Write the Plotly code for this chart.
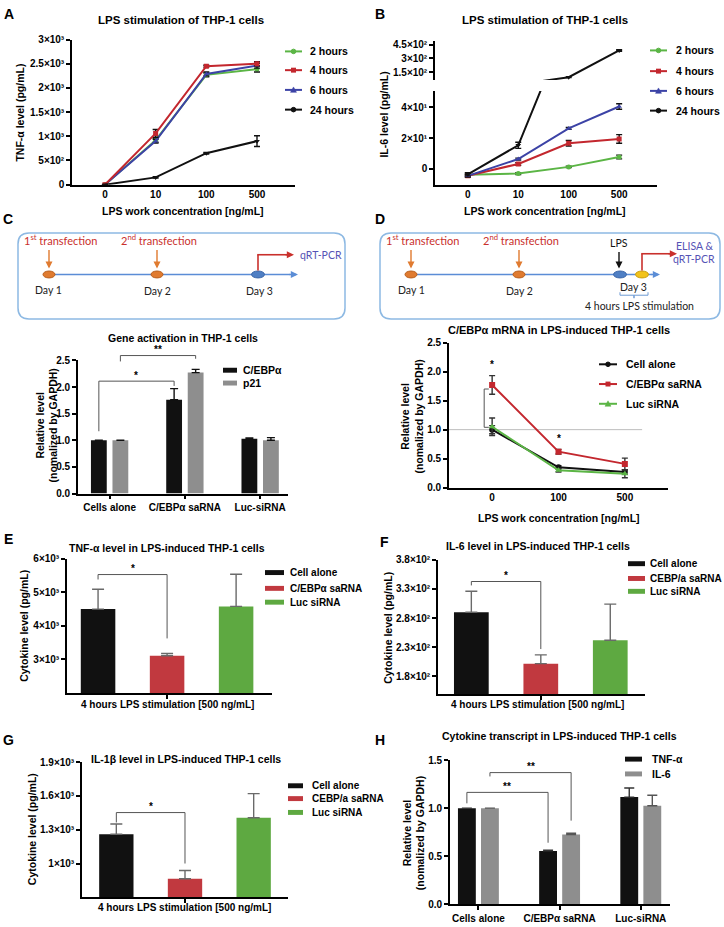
import plotly.graph_objects as go

W, H = 724, 927
FONT = "Liberation Sans"
DFONT = "Lato"

# ---------------- data ----------------
conc_labels = ["0", "10", "100", "500"]
hour_labels = ["2 hours", "4 hours", "6 hours", "24 hours"]

tnf_2h = [0, 920, 2270, 2390]
tnf_2h_err = [0, 40, 40, 60]
tnf_4h = [0, 1060, 2450, 2500]
tnf_4h_err = [0, 80, 20, 40]
tnf_6h = [0, 900, 2290, 2460]
tnf_6h_err = [0, 40, 40, 50]
tnf_24h = [0, 150, 650, 900]
tnf_24h_err = [0, 15, 15, 110]

il6_2h = [-3.8, -3.0, 1.3, 7.7]
il6_2h_err = [0.8, 0.6, 0.5, 1.2]
il6_4h = [-4.5, 3.2, 16.6, 19.4]
il6_4h_err = [0.8, 0.8, 1.8, 2.8]
il6_6h = [-4.5, 6.4, 26.2, 40.4]
il6_6h_err = [0.8, 0.6, 0.6, 1.8]
il6_24h = [-3.5, 15.3, 95, 385]
il6_24h_err = [1.0, 2.0, 3, 8]

gene_groups = ["Cells alone", "C/EBPα saRNA", "Luc-siRNA"]
gene_cebpa = [1.0, 1.76, 1.03]
gene_cebpa_err = [0, 0.21, 0.015]
gene_p21 = [1.0, 2.27, 1.0]
gene_p21_err = [0, 0.06, 0.05]

d_conc = ["0", "100", "500"]
d_series = ["Cell alone", "C/EBPα saRNA", "Luc siRNA"]
d_cell = [1.0, 0.35, 0.27]
d_cell_err = [0.07, 0.03, 0.04]
d_sarna = [1.77, 0.62, 0.41]
d_sarna_err = [0.16, 0.04, 0.10]
d_luc = [1.05, 0.30, 0.24]
d_luc_err = [0.15, 0.03, 0.07]

cyto_groups = ["Cell alone", "C/EBPα saRNA", "Luc siRNA"]
cyto_groups_fg = ["Cell alone", "CEBP/a saRNA", "Luc siRNA"]
e_tnf = [4500, 3110, 4580]
e_tnf_err = [590, 65, 960]
f_il6 = [290, 202, 242]
f_il6_err = [36, 15, 62]
g_il1b = [1260, 865, 1406]
g_il1b_err = [90, 73, 214]

h_groups = ["Cells alone", "C/EBPα saRNA", "Luc-siRNA"]
h_tnf = [1.0, 0.555, 1.115]
h_tnf_err = [0, 0.006, 0.095]
h_il6 = [1.0, 0.725, 1.025]
h_il6_err = [0, 0.015, 0.11]

# ---------------- helpers ----------------
def X(px):
    return px / W

def Y(py):
    return 1 - py / H


class Ax:
    """pixel box + value range of a subplot (same numbers given to plotly)."""
    def __init__(self, x0, x1, xr, y0, y1, yr):
        self.x0, self.x1, self.xr = x0, x1, xr
        self.y0, self.y1, self.yr = y0, y1, yr

    def xd(self):
        return [X(self.x0), X(self.x1)]

    def yd(self):
        return [Y(self.y1), Y(self.y0)]

    def px(self, v):
        return self.x0 + (v - self.xr[0]) / (self.xr[1] - self.xr[0]) * (self.x1 - self.x0)

    def py(self, v):
        return self.y1 - (v - self.yr[0]) / (self.yr[1] - self.yr[0]) * (self.y1 - self.y0)


axA = Ax(72, 295, [-0.65, 3.75], 34, 181, [0, 3000])
axB = Ax(435, 657, [-0.65, 3.75], 86, 181, [-10.2, 50.5])
axBu = Ax(435, 657, [-0.65, 3.75], 35, 75, [64, 493])
axC = Ax(78, 288, [-0.42, 2.37], 359, 494, [0, 2.5])
axD = Ax(449, 668, [-0.65, 2.65], 341, 488, [0, 2.5])
axE = Ax(67, 272, [-0.45, 2.52], 560, 696, [2000, 6000])
axF = Ax(438, 645, [-0.48, 2.5], 561, 697, [150, 380])
axG = Ax(82, 288, [-0.5, 2.5], 766, 903, [700, 1900])
axH = Ax(450, 670, [-0.35, 2.36], 764, 910, [0, 1.5])

TICKFONT = dict(family=FONT, size=10, color="black", weight="bold")
LW = 1.6

shapes = []
annos = []


def txt(x, y, s, size=10, bold=True, color="black", xanchor="center", angle=0, family=FONT, yanchor="middle"):
    annos.append(dict(x=X(x), y=Y(y), xref="paper", yref="paper", text=s, showarrow=False,
                      xanchor=xanchor, yanchor=yanchor, textangle=angle,
                      font=dict(family=family, size=size, color=color, weight="bold" if bold else "normal")))


def line(x0, y0, x1, y1, color="black", width=1.5, dash=None):
    d = dict(type="line", xref="paper", yref="paper", x0=X(x0), y0=Y(y0), x1=X(x1), y1=Y(y1),
             line=dict(color=color, width=width))
    if dash:
        d["line"]["dash"] = dash
    shapes.append(d)


def rect(x0, y0, x1, y1, fill, lc=None, lw=0):
    shapes.append(dict(type="rect", xref="paper", yref="paper", x0=X(x0), y0=Y(y0), x1=X(x1), y1=Y(y1),
                       fillcolor=fill, line=dict(color=lc or fill, width=lw)))


def ellipse(cx, cy, rx, ry, fill, lc):
    shapes.append(dict(type="circle", xref="paper", yref="paper", x0=X(cx - rx), y0=Y(cy + ry),
                       x1=X(cx + rx), y1=Y(cy - ry), fillcolor=fill, line=dict(color=lc, width=1)))


def path(pts, color="#444", width=1.0):
    p = "M" + " L".join(f"{X(a):.5f},{Y(b):.5f}" for a, b in pts)
    shapes.append(dict(type="path", xref="paper", yref="paper", path=p, line=dict(color=color, width=width)))


def arrow(x, y, ax, ay, color, width=1.5, head=2, size=1.0):
    annos.append(dict(x=X(x), y=Y(y), xref="paper", yref="paper", ax=ax, ay=ay, text="",
                      showarrow=True, arrowhead=head, arrowsize=size, arrowwidth=width, arrowcolor=color))


def bracket(ax, xl, xr, ytop, yl, yr, stars):
    path([(ax.px(xl), ax.py(yl)), (ax.px(xl), ax.py(ytop)), (ax.px(xr), ax.py(ytop)), (ax.px(xr), ax.py(yr))],
         color="#555", width=1.0)
    txt((ax.px(xl) + ax.px(xr)) / 2, ax.py(ytop) - 6, stars, size=10, bold=True)


def legend_line(x0, x1, xt, y, label, color, sym):
    line(x0, y, x1, y, color=color, width=2)
    cx = (x0 + x1) / 2
    if sym == "square":
        rect(cx - 2.5, y - 2.5, cx + 2.5, y + 2.5, color)
    elif sym == "tri":
        shapes.append(dict(type="path", xref="paper", yref="paper",
                           path=f"M{X(cx-3):.5f},{Y(y+2.5):.5f} L{X(cx+3):.5f},{Y(y+2.5):.5f} L{X(cx):.5f},{Y(y-3):.5f} Z",
                           fillcolor=color, line=dict(color=color, width=0.5)))
    else:
        ellipse(cx, y, 2.3, 2.3, color, color)
    txt(xt, y, label, size=10.5, xanchor="left")


def legend_box(x0, x1, xt, y, label, color, h=5, size=10):
    rect(x0, y - h / 2, x1, y + h / 2, color)
    txt(xt, y, label, size=size, xanchor="left")


def xaxis(ax, anchor, ticks="", tickvals=None, showlabels=True, cat=True):
    d = dict(domain=ax.xd(), range=ax.xr, anchor=anchor, showline=True, linecolor="black", linewidth=LW,
             showgrid=False, zeroline=False, ticks=ticks, ticklen=4, tickwidth=LW, tickcolor="black",
             tickfont=TICKFONT, showticklabels=showlabels, fixedrange=True)
    if cat:
        d["type"] = "category"
    if tickvals is not None:
        d["tickvals"] = tickvals
    return d


def yaxis(ax, anchor, tickvals, ticktext):
    return dict(domain=ax.yd(), range=ax.yr, anchor=anchor, showline=True, linecolor="black", linewidth=LW,
                showgrid=False, zeroline=False, ticks="outside", ticklen=4, tickwidth=LW, tickcolor="black",
                tickfont=TICKFONT, tickvals=tickvals, ticktext=ticktext, fixedrange=True)


GREEN = "#5BB545"
RED = "#C3272E"
BLUE = "#3C43A6"
BLACK = "#111111"
BAR_RED = "#C1393F"
BAR_GREEN = "#5EA941"
GRAY = "#8E8E8E"

fig = go.Figure()


def err(arr, color, width=3, sym=True):
    d = dict(type="data", array=arr, color=color, thickness=1.4, width=width, visible=True)
    if not sym:
        d["symmetric"] = False
        d["arrayminus"] = [0] * len(arr)
    return d


# ---------------- Panel A ----------------
for ys, es, col, sym, nm in [(tnf_2h, tnf_2h_err, GREEN, "circle", hour_labels[0]),
                             (tnf_6h, tnf_6h_err, BLUE, "triangle-up", hour_labels[2]),
                             (tnf_4h, tnf_4h_err, RED, "square", hour_labels[1]),
                             (tnf_24h, tnf_24h_err, BLACK, "triangle-down", hour_labels[3])]:
    fig.add_trace(go.Scatter(x=conc_labels, y=ys, error_y=err(es, BLACK), mode="lines+markers", name=nm,
                             line=dict(color=col, width=2), marker=dict(symbol=sym, size=5, color=col),
                             xaxis="x", yaxis="y", showlegend=False))

# ---------------- Panel B (broken axis) ----------------
for ys, es, col, sym, nm in [(il6_2h, il6_2h_err, GREEN, "circle", hour_labels[0]),
                             (il6_4h, il6_4h_err, RED, "square", hour_labels[1]),
                             (il6_6h, il6_6h_err, BLUE, "triangle-up", hour_labels[2]),
                             (il6_24h, il6_24h_err, BLACK, "triangle-down", hour_labels[3])]:
    fig.add_trace(go.Scatter(x=conc_labels, y=ys, error_y=err(es, BLACK), mode="lines+markers", name=nm,
                             line=dict(color=col, width=2), marker=dict(symbol=sym, size=5, color=col),
                             xaxis="x2", yaxis="y2", showlegend=False))
fig.add_trace(go.Scatter(x=conc_labels, y=il6_24h, error_y=err(il6_24h_err, BLACK), mode="lines+markers",
                         line=dict(color=BLACK, width=2), marker=dict(symbol="triangle-down", size=5, color=BLACK),
                         xaxis="x2", yaxis="y3", showlegend=False))

# ---------------- Panel C bars ----------------
BW_C = 0.21
fig.add_trace(go.Bar(x=gene_groups, y=gene_cebpa, width=BW_C, offset=-0.143 - BW_C / 2, marker_color=BLACK,
                     marker_line_width=0, error_y=err(gene_cebpa_err, BLACK, 4, False),
                     xaxis="x3", yaxis="y4", showlegend=False))
fig.add_trace(go.Bar(x=gene_groups, y=gene_p21, width=BW_C, offset=0.143 - BW_C / 2, marker_color=GRAY,
                     marker_line_width=0, error_y=err(gene_p21_err, BLACK, 4, False),
                     xaxis="x3", yaxis="y4", showlegend=False))

# ---------------- Panel D lines ----------------
for ys, es, col, sym in [(d_cell, d_cell_err, BLACK, "circle"),
                         (d_luc, d_luc_err, GREEN, "triangle-up"),
                         (d_sarna, d_sarna_err, RED, "square")]:
    fig.add_trace(go.Scatter(x=d_conc, y=ys, error_y=err(es, "#333", 3), mode="lines+markers",
                             line=dict(color=col, width=2), marker=dict(symbol=sym, size=6, color=col),
                             xaxis="x4", yaxis="y5", showlegend=False))

# ---------------- Panels E/F/G bars ----------------
for vals, errs, cats, xa, ya in [(e_tnf, e_tnf_err, cyto_groups, "x5", "y6"),
                                 (f_il6, f_il6_err, cyto_groups_fg, "x6", "y7"),
                                 (g_il1b, g_il1b_err, cyto_groups_fg, "x7", "y8")]:
    fig.add_trace(go.Bar(x=cats, y=vals, width=0.5, marker_color=[BLACK, BAR_RED, BAR_GREEN],
                         marker_line_width=0, error_y=err(errs, "#6a6a6a", 6, False),
                         xaxis=xa, yaxis=ya, showlegend=False))

# ---------------- Panel H bars ----------------
BW_H = 0.22
fig.add_trace(go.Bar(x=h_groups, y=h_tnf, width=BW_H, offset=-0.142 - BW_H / 2, marker_color=BLACK,
                     marker_line_width=0, error_y=err(h_tnf_err, "#333", 5, False),
                     xaxis="x8", yaxis="y9", showlegend=False))
fig.add_trace(go.Bar(x=h_groups, y=h_il6, width=BW_H, offset=0.142 - BW_H / 2, marker_color=GRAY,
                     marker_line_width=0, error_y=err(h_il6_err, "#555", 5, False),
                     xaxis="x8", yaxis="y9", showlegend=False))

# ---------------- axes ----------------
lay = {}
lay["xaxis"] = xaxis(axA, "y")
lay["yaxis"] = yaxis(axA, "x", [0, 500, 1000, 1500, 2000, 2500, 3000],
                     ["0", "5×10²", "1×10³", "1.5×10³", "2×10³", "2.5×10³", "3×10³"])
lay["xaxis2"] = xaxis(axB, "y2")
lay["yaxis2"] = yaxis(axB, "x2", [0, 20, 40], ["0", "2×10¹", "4×10¹"])
lay["yaxis3"] = yaxis(axBu, "x2", [150, 300, 450], ["1.5×10²", "3×10²", "4.5×10²"])
lay["xaxis3"] = xaxis(axC, "y4", ticks="outside")
lay["yaxis4"] = yaxis(axC, "x3", [0, 0.5, 1.0, 1.5, 2.0, 2.5], ["0.0", "0.5", "1.0", "1.5", "2.0", "2.5"])
lay["xaxis4"] = xaxis(axD, "y5")
lay["yaxis5"] = yaxis(axD, "x4", [0, 0.5, 1.0, 1.5, 2.0, 2.5], ["0.0", "0.5", "1.0", "1.5", "2.0", "2.5"])
lay["xaxis5"] = xaxis(axE, "y6", ticks="outside", tickvals=[cyto_groups[1]], showlabels=False)
lay["yaxis6"] = yaxis(axE, "x5", [3000, 4000, 5000, 6000], ["3×10³", "4×10³", "5×10³", "6×10³"])
lay["xaxis6"] = xaxis(axF, "y7", ticks="outside", tickvals=[cyto_groups_fg[1]], showlabels=False)
lay["yaxis7"] = yaxis(axF, "x6", [180, 230, 280, 330, 380], ["1.8×10²", "2.3×10²", "2.8×10²", "3.3×10²", "3.8×10²"])
lay["xaxis7"] = xaxis(axG, "y8", ticks="outside", tickvals=[cyto_groups_fg[1]], showlabels=False)
lay["yaxis8"] = yaxis(axG, "x7", [1000, 1300, 1600, 1900], ["1×10³", "1.3×10³", "1.6×10³", "1.9×10³"])
lay["xaxis8"] = xaxis(axH, "y9", ticks="outside")
lay["yaxis9"] = yaxis(axH, "x8", [0, 0.5, 1.0, 1.5], ["0.0", "0.5", "1.0", "1.5"])

# ---------------- reference line / bracket in D ----------------
shapes.append(dict(type="line", xref="x4", yref="y5", x0=-0.65, x1=2.26, y0=1.0, y1=1.0,
                   line=dict(color="#bdbdbd", width=1), layer="below"))
path([(axD.px(-0.05), axD.py(1.70)), (axD.px(-0.12), axD.py(1.70)),
      (axD.px(-0.12), axD.py(1.04)), (axD.px(-0.05), axD.py(1.04))], color="#555", width=1)
txt(axD.px(0), axD.py(2.13), "*", size=10)
txt(axD.px(1), axD.py(0.85), "*", size=10)

# ---------------- significance brackets ----------------
bracket(axC, -0.143, 1 - 0.143, 2.11, 1.17, 2.02, "*")
bracket(axC, 0.143, 1 + 0.143, 2.59, 2.48, 2.53, "**")
bracket(axE, 0, 1, 5529, 5382, 3626, "*")
bracket(axF, 0, 1, 342.7, 336, 227, "*")
bracket(axG, 0, 1, 1452, 1364, 1000, "*")
bracket(axH, -0.142, 1 - 0.142, 1.164, 1.05, 0.64, "**")
bracket(axH, 0.142, 1 + 0.142, 1.37, 1.33, 0.87, "**")

# ---------------- legends ----------------
for i, (lab, col, sym) in enumerate(zip(hour_labels, [GREEN, RED, BLUE, BLACK], ["circle", "square", "tri", "circle"])):
    legend_line(285, 302, 308, [46, 65, 85, 105][i], lab, col, sym)
    legend_line(650, 667, 674, [45, 66, 86, 106][i], lab, col, sym)
for i, (lab, col, sym) in enumerate(zip(d_series, [BLACK, RED, GREEN], ["circle", "square", "tri"])):
    legend_line(599, 617, 624, [363, 383, 403][i], lab, col, sym)
legend_box(223, 237, 241, 369, "C/EBPα", BLACK, size=10.5)
legend_box(223, 237, 241, 382, "p21", GRAY, size=10.5)
for i, (lab, col) in enumerate(zip(cyto_groups, [BLACK, BAR_RED, BAR_GREEN])):
    legend_box(265, 284, 288, [574, 590, 604][i], lab, col)
for i, (lab, col) in enumerate(zip(cyto_groups_fg, [BLACK, BAR_RED, BAR_GREEN])):
    legend_box(628, 645, 648, [565, 580, 593][i], lab, col, size=10)
    legend_box(288, 303, 310, [790, 803, 817][i], lab, col)
legend_box(625, 642, 650, 763, "TNF-α", BLACK, size=10.5)
legend_box(625, 642, 650, 778, "IL-6", GRAY, size=10.5)

# ---------------- titles & axis titles ----------------
txt(181, 14, "LPS stimulation of THP-1 cells", size=11.5)
txt(545, 14, "LPS stimulation of THP-1 cells", size=11.5)
txt(183, 208, "LPS work concentration [ng/mL]", size=10.5)
txt(545, 208, "LPS work concentration [ng/mL]", size=10.5)
txt(20, 108, "TNF-α level (pg/mL)", size=10.5, angle=-90)
txt(384, 110, "IL-6 level (pg/mL)", size=10.5, angle=-90)

txt(183, 336, "Gene activation in THP-1 cells", size=10.5)
txt(47, 425, "Relative level<br>(nomalized by GAPDH)", size=10.5, angle=-90)
txt(559, 328, "C/EBPα mRNA in LPS-induced THP-1 cells", size=11)
txt(412, 416, "Relative level<br>(nomalized by GAPDH)", size=10.5, angle=-90)
txt(559, 519, "LPS work concentration [ng/mL]", size=10.5)

txt(167, 549, "TNF-α level in LPS-induced THP-1 cells", size=10.5)
txt(24, 628, "Cytokine level (pg/mL)", size=10.5, angle=-90)
txt(167, 708, "4 hours LPS stimulation [500 ng/mL]", size=10)
txt(538, 547, "IL-6 level in LPS-induced THP-1 cells", size=10.5)
txt(388, 630, "Cytokine level (pg/mL)", size=10.5, angle=-90)
txt(537, 708, "4 hours LPS stimulation [500 ng/mL]", size=10)

txt(186, 763, "IL-1β level in LPS-induced THP-1 cells", size=10.5)
txt(32, 834, "Cytokine level (pg/mL)", size=10.5, angle=-90)
txt(184, 913, "4 hours LPS stimulation [500 ng/mL]", size=10)
txt(559, 740, "Cytokine transcript in LPS-induced THP-1 cells", size=10.5)
txt(414, 838, "Relative level<br>(nomalized by GAPDH)", size=10.5, angle=-90)

for lab, x, y in [("A", 9, 8), ("B", 380, 8), ("C", 8, 216), ("D", 380, 216),
                  ("E", 8, 540), ("F", 385, 543), ("G", 8, 744), ("H", 380, 744)]:
    txt(x, y, lab, size=14)

# ---------------- timeline diagrams (C, D) ----------------
BOX = "#8DB9E3"
TL = "#5B8DD6"
ORANGE = "#E07B30"
ORANGE_D = "#B85E1C"
DRED = "#C9302C"
PURP = "#5553B5"
BLUE_DOT = "#4F7FC4"


def rounded(x0, y0, x1, y1, r):
    pts = (f"M{X(x0 + r):.5f},{Y(y0):.5f} L{X(x1 - r):.5f},{Y(y0):.5f} "
           f"Q{X(x1):.5f},{Y(y0):.5f} {X(x1):.5f},{Y(y0 + r):.5f} "
           f"L{X(x1):.5f},{Y(y1 - r):.5f} Q{X(x1):.5f},{Y(y1):.5f} {X(x1 - r):.5f},{Y(y1):.5f} "
           f"L{X(x0 + r):.5f},{Y(y1):.5f} Q{X(x0):.5f},{Y(y1):.5f} {X(x0):.5f},{Y(y1 - r):.5f} "
           f"L{X(x0):.5f},{Y(y0 + r):.5f} Q{X(x0):.5f},{Y(y0):.5f} {X(x0 + r):.5f},{Y(y0):.5f} Z")
    shapes.append(dict(type="path", xref="paper", yref="paper", path=pts, line=dict(color=BOX, width=1.5)))


for off, box_r in [(0, 345), (362, 720)]:
    rounded(18 + off, 230, box_r, 317, 11)
    line(45 + off, 272, 290 + off, 272, color=TL, width=1.6)
    arrow(298 + off, 272, -10, 0, TL, width=1.6, head=2, size=0.9)
    txt(60 + off, 237, "1<sup>st</sup> transfection", size=11, bold=False, color=DRED, family=DFONT)
    txt(159 + off, 237, "2<sup>nd</sup> transfection", size=11, bold=False, color=DRED, family=DFONT)
    arrow(49 + off, 266, 0, -20, ORANGE, width=1.4, head=2, size=1)
    arrow(157 + off, 266, 0, -20, ORANGE, width=1.4, head=2, size=1)
    ellipse(49 + off, 272, 6, 3.5, ORANGE, ORANGE_D)
    ellipse(157 + off, 272, 6, 3.5, ORANGE, ORANGE_D)
    txt(49 + off, 288, "Day 1", size=10.5, bold=False, color="#222", family=DFONT)
    txt(157 + off, 289, "Day 2", size=10.5, bold=False, color="#222", family=DFONT)

# C specific
ellipse(258, 272, 6.5, 3.5, BLUE_DOT, "#3B66A8")
txt(259, 289, "Day 3", size=10.5, bold=False, color="#222", family=DFONT)
line(258, 268, 258, 252, color=DRED, width=1.6)
line(257.2, 252, 287, 252, color=DRED, width=1.6)
arrow(294, 252, -10, 0, DRED, width=1.6, head=2, size=0.9)
txt(298, 252, "qRT-PCR", size=10.5, bold=False, color=PURP, family=DFONT, xanchor="left")

# D specific
ellipse(620, 272, 6.5, 3.5, BLUE_DOT, "#3B66A8")
ellipse(642, 272, 6.5, 3.5, "#F2C31B", "#C99E10")
txt(619, 240, "LPS", size=10.5, bold=False, color="#111", family=DFONT)
arrow(619, 266, 0, -18, "#111", width=1.4, head=2, size=1)
txt(633, 285, "Day 3", size=10.5, bold=False, color="#222", family=DFONT)
path([(620, 290), (620, 293), (634, 293), (634, 296), (634, 293), (648, 293), (648, 290)], color="#6E9BD4", width=1)
txt(639, 304, "4 hours LPS stimulation", size=10.5, bold=False, color="#222", family=DFONT)
line(642, 268, 642, 251, color=DRED, width=1.6)
line(641.2, 251, 670, 251, color=DRED, width=1.6)
arrow(677, 251, -10, 0, DRED, width=1.6, head=2, size=0.9)
txt(694, 243, "ELISA &", size=10.5, bold=False, color=PURP, family=DFONT)
txt(694, 256, "qRT-PCR", size=10.5, bold=False, color=PURP, family=DFONT)

fig.update_layout(**lay)
fig.update_layout(width=W, height=H, margin=dict(l=0, r=0, t=0, b=0), paper_bgcolor="white",
                  plot_bgcolor="rgba(0,0,0,0)", barmode="overlay", showlegend=False,
                  shapes=shapes, annotations=annos, font=dict(family=FONT, size=10, color="black"))

fig.write_html("out.html", config={"displayModeBar": False},
               post_script="document.body.style.margin='0px';document.body.style.overflow='hidden';")
